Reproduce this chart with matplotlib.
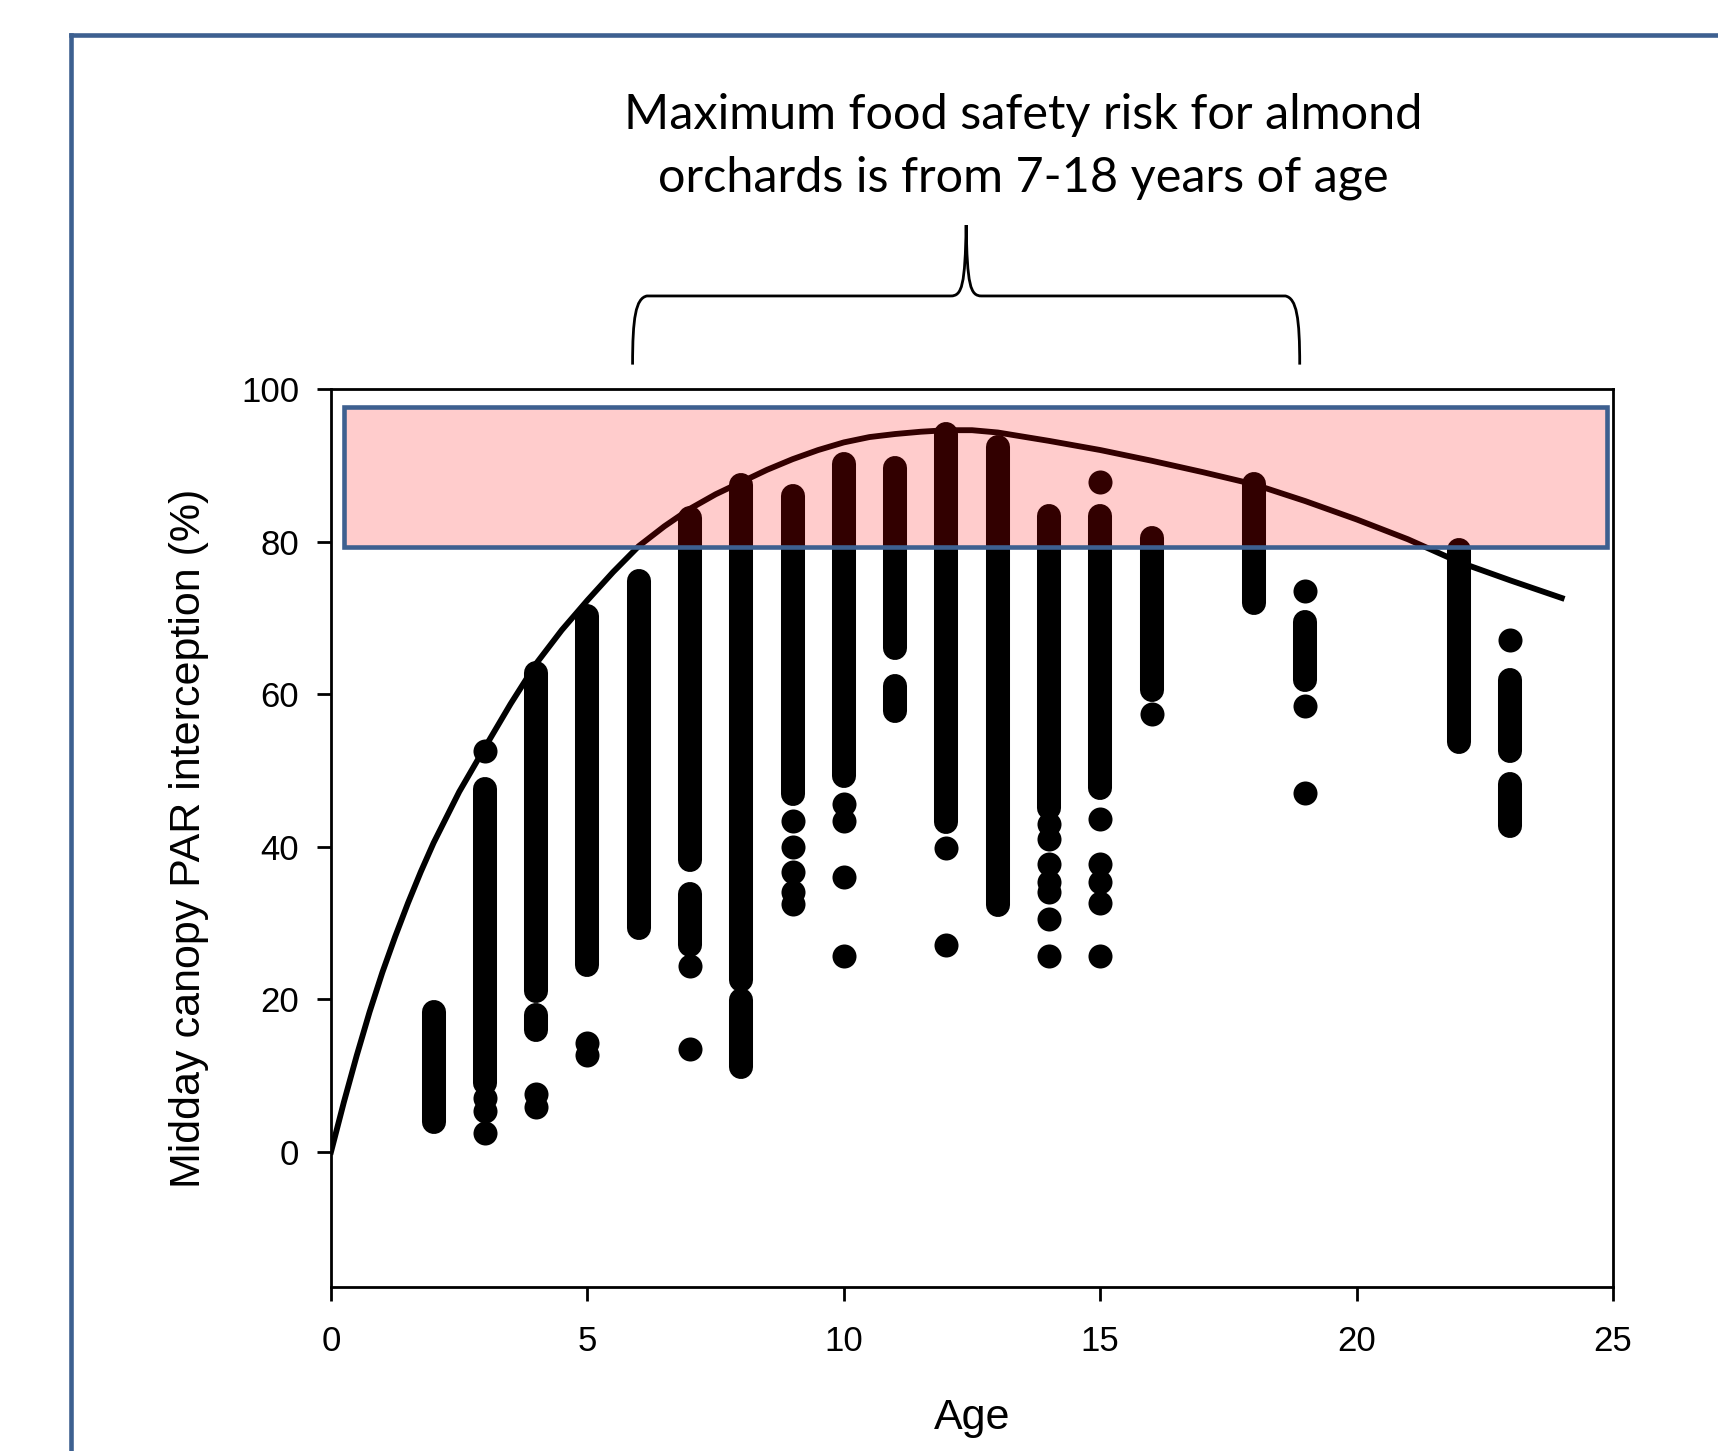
import matplotlib
matplotlib.use('Agg')
import matplotlib.pyplot as plt
from matplotlib.patches import Rectangle, PathPatch
from matplotlib.path import Path
from matplotlib.lines import Line2D

# Continuous runs of overlapping points (age, lowest, highest)
run_age = [2, 3, 4, 4, 5, 6, 7, 7, 8, 8, 9, 10, 11, 11, 12, 13, 14, 15, 16, 18, 19, 22, 23, 23]
run_lo = [3.9, 9.0, 21.1, 15.9, 24.5, 29.3, 38.3, 27.1, 22.5, 11.1, 46.9, 49.2, 66.0, 57.8,
          43.2, 32.4, 45.0, 47.7, 60.6, 72.0, 61.8, 53.7, 52.6, 42.7]
run_hi = [18.3, 47.6, 62.7, 17.9, 70.3, 74.8, 83.1, 33.8, 87.4, 19.9, 86.0, 90.2, 89.7, 61.1,
          94.1, 92.4, 83.3, 83.3, 80.5, 87.6, 69.5, 78.9, 61.9, 48.2]

# Isolated points
dot_age = [3, 3, 3, 3, 4, 4, 5, 5, 7, 7, 9, 9, 9, 9, 9, 10, 10, 10, 10, 12, 12,
           14, 14, 14, 14, 14, 14, 14, 15, 15, 15, 15, 15, 15, 16, 19, 19, 19, 23]
dot_val = [52.5, 7.0, 5.3, 2.4, 7.6, 5.8, 14.2, 12.7, 24.3, 13.5, 43.4, 40.0, 36.7, 34.0, 32.5,
           45.6, 43.3, 36.0, 25.7, 39.8, 27.1,
           43.0, 41.0, 37.7, 35.3, 34.0, 30.5, 25.7, 87.8, 43.6, 37.7, 35.3, 32.6, 25.7,
           57.4, 73.5, 58.4, 47.0, 67.1]

# Fitted curve
curve_x = [0, 0.25, 0.5, 0.75, 1, 1.25, 1.5, 1.75, 2, 2.5, 3, 3.5, 4, 4.5, 5, 5.5, 6, 6.5,
           7, 7.5, 8, 8.5, 9, 9.5, 10, 10.5, 11, 11.5, 12, 12.5, 13, 14, 15, 16, 17, 18,
           19, 20, 21, 22, 23, 24]
curve_y = [0, 6.5, 12.6, 18.3, 23.5, 28.2, 32.6, 36.7, 40.5, 47.2, 53.0, 58.7, 64.0, 68.4,
           72.3, 76.0, 79.4, 82.0, 84.3, 86.2, 87.8, 89.4, 90.8, 92.0, 93.0, 93.7, 94.1,
           94.4, 94.6, 94.6, 94.3, 93.2, 92.0, 90.6, 89.1, 87.5, 85.3, 82.9, 80.3, 77.3,
           74.9, 72.6]

# Highlighted band and the age range of the brace
band_x = (0.25, 24.88)
band_y = (79.3, 97.6)
brace_x = (5.88, 18.89)

blue = '#3d6090'
dot_pt = 17.3

fig = plt.figure(figsize=(17.18, 14.51), dpi=100)
ax = fig.add_axes([0.1927, 0.1127, 0.7462, 0.6192])

# points
for a, lo, hi in zip(run_age, run_lo, run_hi):
    ax.plot([a, a], [lo, hi], color='black', lw=dot_pt, solid_capstyle='round', zorder=2)
ax.scatter(dot_age, dot_val, s=dot_pt ** 2, color='black', linewidths=0, zorder=2)

ax.plot(curve_x, curve_y, color='black', lw=4.2, zorder=3, solid_joinstyle='round')

# translucent red band on top of the data
band = Rectangle((band_x[0], band_y[0]), band_x[1] - band_x[0], band_y[1] - band_y[0],
                 facecolor=(1, 0, 0, 0.2), edgecolor=blue, linewidth=3.3, zorder=4)
ax.add_patch(band)

ax.set_xlim(0, 25)
ax.set_ylim(-17.8, 100)
ax.set_xticks([0, 5, 10, 15, 20, 25])
ax.set_yticks([0, 20, 40, 60, 80, 100])
for s in ax.spines.values():
    s.set_linewidth(2.0)
ax.tick_params(axis='both', direction='out', length=10, width=2.0, labelsize=25)
ax.tick_params(axis='y', pad=13)
ax.tick_params(axis='x', pad=17)
for lab in ax.get_xticklabels() + ax.get_yticklabels():
    lab.set_fontfamily('Liberation Sans')

ax.set_xlabel('Age', fontsize=31, fontfamily='Liberation Sans')
ax.set_ylabel('Midday canopy PAR interception (%)', fontsize=31, fontfamily='Liberation Sans')
ax.xaxis.set_label_coords(0.5, -0.123)
ax.yaxis.set_label_coords(-0.095, 0.5)

# curly brace above the plot
x0, x1 = brace_x
xm = (x0 + x1) / 2
yf, yb, yt = 103.2, 112.2, 121.5
verts = [(x0, yf), (x0, 109.3), (x0 + 0.06, yb - 0.3), (x0 + 0.28, yb),
         (xm - 0.3, yb),
         (xm - 0.08, yb), (xm - 0.02, 113.6), (xm, yt),
         (xm + 0.02, 113.6), (xm + 0.08, yb), (xm + 0.3, yb),
         (x1 - 0.28, yb),
         (x1 - 0.06, yb - 0.3), (x1, 109.3), (x1, yf)]
codes = [Path.MOVETO, Path.CURVE4, Path.CURVE4, Path.CURVE4,
         Path.LINETO,
         Path.CURVE4, Path.CURVE4, Path.CURVE4,
         Path.CURVE4, Path.CURVE4, Path.CURVE4,
         Path.LINETO,
         Path.CURVE4, Path.CURVE4, Path.CURVE4]
ax.add_patch(PathPatch(Path(verts, codes), facecolor='none', edgecolor='black',
                       linewidth=2.0, clip_on=False))

fig.text(0.5955, 0.9109, 'Maximum food safety risk for almond', fontsize=35,
         fontfamily='Lato', ha='center', va='baseline')
fig.text(0.5955, 0.8679, 'orchards is from 7-18 years of age', fontsize=35,
         fontfamily='Lato', ha='center', va='baseline')

# slide frame
fig.add_artist(Line2D([0.0413, 0.0413], [0, 0.9759], color=blue, lw=3.3))
fig.add_artist(Line2D([0.0413, 1.0], [0.9759, 0.9759], color=blue, lw=3.3))

fig.savefig('out.png', dpi=100)
